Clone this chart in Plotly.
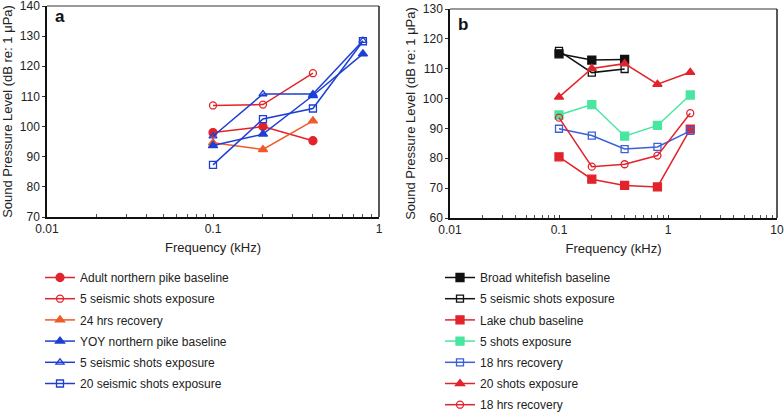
import plotly.graph_objects as go

# ---- data: panel a ----
freq_a3 = [0.1, 0.2, 0.4]
freq_a4 = [0.1, 0.2, 0.4, 0.8]
adult_base = [98.0, 100.0, 95.3]
adult_5shots = [107.0, 107.3, 117.7]
adult_24h = [94.6, 92.4, 101.9]
yoy_base = [93.7, 97.5, 110.3, 124.1]
yoy_5shots = [96.8, 110.8, 110.8, 128.5]
yoy_20shots = [87.3, 102.5, 106.0, 128.3]

# ---- data: panel b ----
freq_b3 = [0.1, 0.2, 0.4]
freq_b5 = [0.1, 0.2, 0.4, 0.8, 1.6]
white_base = [115.0, 112.9, 113.1]
white_5shots = [116.0, 108.7, 109.9]
chub_base = [80.5, 73.0, 70.9, 70.4, 89.8]
chub_5shots = [94.5, 98.0, 87.4, 91.0, 101.2]
chub_18h_a = [89.9, 87.6, 83.1, 83.8, 89.2]
chub_20shots = [100.5, 110.1, 111.7, 104.8, 108.8]
chub_18h_b = [93.6, 77.2, 78.0, 80.9, 95.1]

labels_a = ["Adult northern pike baseline", "5 seismic shots exposure", "24 hrs recovery",
            "YOY northern pike baseline", "5 seismic shots exposure", "20 seismic shots exposure"]
labels_b = ["Broad whitefish baseline", "5 seismic shots exposure", "Lake chub baseline",
            "5 shots exposure", "18 hrs recovery", "20 shots exposure", "18 hrs recovery"]

RED = "#e3232b"
ORANGE = "#f05a28"
BLUE = "#1d3fd4"
AQUA = "#48e6a0"
BLUE2 = "#3a60da"
BLACK = "#111111"

FONT = "Liberation Sans, Arial, Helvetica, sans-serif"

fig = go.Figure()

def add(x, y, name, color, symbol, xa, ya, legend, size=7):
    fig.add_trace(go.Scatter(
        x=x, y=y, name=name, mode="lines+markers",
        line=dict(color=color, width=1.5),
        marker=dict(color=color, symbol=symbol, size=size,
                    line=dict(color=color, width=1.3)),
        xaxis=xa, yaxis=ya, legend=legend, legendgroup=legend + name + symbol,
    ))

add(freq_a3, adult_base, labels_a[0], RED, "circle", "x", "y", "legend", 8)
add(freq_a3, adult_5shots, labels_a[1], RED, "circle-open", "x", "y", "legend")
add(freq_a3, adult_24h, labels_a[2], ORANGE, "triangle-up", "x", "y", "legend", 8)
add(freq_a4, yoy_base, labels_a[3], BLUE, "triangle-up", "x", "y", "legend", 8)
add(freq_a4, yoy_5shots, labels_a[4], BLUE, "triangle-up-open", "x", "y", "legend")
add(freq_a4, yoy_20shots, labels_a[5], BLUE, "square-open", "x", "y", "legend")

add(freq_b3, white_base, labels_b[0], BLACK, "square", "x2", "y2", "legend2", 8)
add(freq_b3, white_5shots, labels_b[1], BLACK, "square-open", "x2", "y2", "legend2")
add(freq_b5, chub_base, labels_b[2], RED, "square", "x2", "y2", "legend2", 8)
add(freq_b5, chub_5shots, labels_b[3], AQUA, "square", "x2", "y2", "legend2", 8)
add(freq_b5, chub_18h_a, labels_b[4], BLUE2, "square-open", "x2", "y2", "legend2")
add(freq_b5, chub_20shots, labels_b[5], RED, "triangle-up", "x2", "y2", "legend2", 8)
add(freq_b5, chub_18h_b, labels_b[6], RED, "circle-open", "x2", "y2", "legend2")

W, H = 784, 413
def px_x(p): return p / W
def px_y(p): return 1 - p / H

minor_a = [m * 10 ** e for e in (-2, -1) for m in range(2, 10)]
minor_b = [m * 10 ** e for e in (-2, -1, 0) for m in range(2, 10)]

xcommon = dict(type="log", showline=True, linecolor="#111", linewidth=1.5, automargin=False,
               ticks="inside", ticklen=3, tickcolor="#333", showgrid=False, zeroline=False,
               ticklabeloverflow="allow",
               tickfont=dict(size=12, color="#222", family=FONT),
               title=dict(text="Frequency (kHz)", font=dict(size=13, color="#222", family=FONT), standoff=8))
ycommon = dict(showline=True, linecolor="#111", linewidth=1.5, mirror=False, automargin=False,
               ticks="outside", ticklen=3, tickcolor="#333", showgrid=False, zeroline=False,
               dtick=10, ticklabeloverflow="allow",
               tickfont=dict(size=12, color="#222", family=FONT),
               title=dict(text="Sound Pressure Level (dB re: 1 μPa)", font=dict(size=13, color="#222", family=FONT), standoff=4))

fig.update_layout(
    width=W, height=H, margin=dict(l=0, r=0, t=0, b=0, autoexpand=False),
    paper_bgcolor="white", plot_bgcolor="white",
    font=dict(family=FONT, color="#222"),
    xaxis=dict(xcommon, domain=[px_x(47), px_x(379)], range=[-2, 0], anchor="y",
               tickvals=[0.01, 0.1, 1], ticktext=["0.01", "0.1", "1"],
               minor=dict(tickvals=minor_a, ticks="inside", ticklen=3, tickcolor="#555")),
    yaxis=dict(ycommon, domain=[px_y(217), px_y(6)], range=[70, 140], anchor="x"),
    xaxis2=dict(xcommon, domain=[px_x(450), px_x(777)], range=[-2, 1], anchor="y2",
                tickvals=[0.01, 0.1, 1, 10], ticktext=["0.01", "0.1", "1", "10"],
                minor=dict(tickvals=minor_b, ticks="inside", ticklen=3, tickcolor="#555")),
    yaxis2=dict(ycommon, domain=[px_y(218), px_y(9)], range=[60, 130], anchor="x2"),
    legend=dict(x=px_x(40), y=px_y(263), xanchor="left", yanchor="top",
                font=dict(size=12, color="#222", family=FONT),
                traceorder="grouped", tracegroupgap=2.2, bgcolor="rgba(0,0,0,0)"),
    legend2=dict(x=px_x(440), y=px_y(263), xanchor="left", yanchor="top",
                 font=dict(size=12, color="#222", family=FONT),
                 traceorder="grouped", tracegroupgap=2.2, bgcolor="rgba(0,0,0,0)"),
    showlegend=True,
)

# top (grey) and right (dark) frame lines
for xa, ya in (("x", "y"), ("x2", "y2")):
    fig.add_shape(type="line", xref=f"{xa} domain", yref=f"{ya} domain",
                  x0=0, x1=1, y0=1, y1=1, line=dict(color="#777", width=1.5))
    fig.add_shape(type="line", xref=f"{xa} domain", yref=f"{ya} domain",
                  x0=1, x1=1, y0=0, y1=1, line=dict(color="#222", width=1.5))

fig.add_annotation(text="<b>a</b>", xref="paper", yref="paper", x=px_x(53), y=px_y(17),
                   xanchor="left", yanchor="middle", showarrow=False,
                   font=dict(size=17, color="#111", family=FONT))
fig.add_annotation(text="<b>b</b>", xref="paper", yref="paper", x=px_x(456), y=px_y(24),
                   xanchor="left", yanchor="middle", showarrow=False,
                   font=dict(size=17, color="#111", family=FONT))

fig.write_html("out.html", config={"displayModeBar": False},
               post_script="document.body.style.margin='0px';")
